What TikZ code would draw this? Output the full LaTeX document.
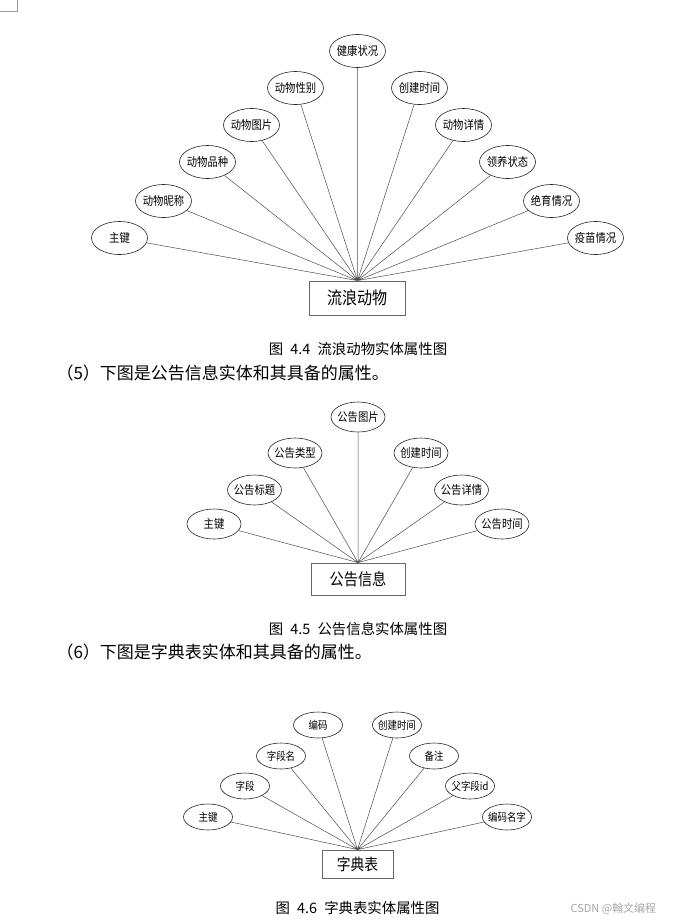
\documentclass[tikz,border=0pt]{standalone}
\usepackage{fontspec}
\setmainfont{Noto Sans CJK SC}
\newfontfamily\narrowcjk[FakeStretch=0.86]{Noto Sans CJK SC}
\usetikzlibrary{shapes.geometric}
\begin{document}
\begin{tikzpicture}[x=1pt,y=-1pt,
    attr/.style={ellipse,draw=black!85,line width=0.6pt,inner xsep=-2pt,inner ysep=0pt},
    bigattr/.style={attr,minimum width=56pt,minimum height=33pt,font=\narrowcjk\fontsize{12}{12}\selectfont},
    midattr/.style={attr,minimum width=54pt,minimum height=30pt,font=\narrowcjk\fontsize{12}{12}\selectfont},
    smallattr/.style={attr,minimum width=49pt,minimum height=26pt,font=\narrowcjk\fontsize{11}{11}\selectfont},
    entity/.style={rectangle,draw=black!60,line width=0.8pt,inner sep=0pt},
    link/.style={draw=black!70,line width=0.5pt},
    caption/.style={font=\fontsize{14.4}{15}\selectfont},
    para/.style={anchor=west,font=\fontsize{17}{18}\selectfont}]
  \useasboundingbox (0,0) rectangle (674,922);
  \draw[black!40,line width=0.6pt] (0,11.7) -- (17.3,11.7) -- (17.3,0);

  % 流浪动物
  \node[entity,minimum width=96pt,minimum height=34pt,font=\narrowcjk\fontsize{17.5}{18}\selectfont] (p) at (357.5,298) {流浪动物};
  \node[bigattr] (p1) at (119.5,238) {主键};
  \node[bigattr] (p2) at (163.5,201) {动物昵称};
  \node[bigattr] (p3) at (207.5,162) {动物品种};
  \node[bigattr] (p4) at (251.5,125) {动物图片};
  \node[bigattr] (p5) at (295.5,88) {动物性别};
  \node[bigattr] (p6) at (357.5,51) {健康状况};
  \node[bigattr] (p7) at (419.5,88) {创建时间};
  \node[bigattr] (p8) at (463.5,125) {动物详情};
  \node[bigattr] (p9) at (507.5,162) {领养状态};
  \node[bigattr] (p10) at (551.5,201) {绝育情况};
  \node[bigattr] (p11) at (595.5,238) {疫苗情况};
  \draw[link] (p.north) -- (p1) (p.north) -- (p2) (p.north) -- (p3)
    (p.north) -- (p4) (p.north) -- (p5) (p.north) -- (p6) (p.north) -- (p7)
    (p.north) -- (p8) (p.north) -- (p9) (p.north) -- (p10) (p.north) -- (p11);
  \node[caption] (cap1) at (358,349) {图\hspace{0.5em}4.4\hspace{0.5em}流浪动物实体属性图};
  \node[para] (txt1) at (53,373) {（5）下图是公告信息实体和其具备的属性。};

  % 公告信息
  \node[entity,minimum width=94pt,minimum height=32pt,font=\narrowcjk\fontsize{16.5}{17}\selectfont] (n) at (358,579) {公告信息};
  \node[midattr] (n1) at (214,524) {主键};
  \node[midattr] (n2) at (254.5,490) {公告标题};
  \node[midattr] (n3) at (295,453) {公告类型};
  \node[midattr] (n4) at (358,417) {公告图片};
  \node[midattr] (n5) at (421,453) {创建时间};
  \node[midattr] (n6) at (461.5,490) {公告详情};
  \node[midattr] (n7) at (502,524) {公告时间};
  \draw[link] (n.north) -- (n1) (n.north) -- (n2) (n.north) -- (n3)
    (n.north) -- (n4) (n.north) -- (n5) (n.north) -- (n6) (n.north) -- (n7);
  \node[caption] (cap2) at (358,629) {图\hspace{0.5em}4.5\hspace{0.5em}公告信息实体属性图};
  \node[para] (txt2) at (53,652) {（6）下图是字典表实体和其具备的属性。};

  % 字典表
  \node[entity,minimum width=71pt,minimum height=28pt,font=\narrowcjk\fontsize{16}{16}\selectfont] (d) at (357.5,864) {字典表};
  \node[smallattr] (d1) at (208,817) {主键};
  \node[smallattr] (d2) at (245,786) {字段};
  \node[smallattr] (d3) at (281,756) {字段名};
  \node[smallattr] (d4) at (318,725) {编码};
  \node[smallattr] (d5) at (397,725) {创建时间};
  \node[smallattr] (d6) at (434,756) {备注};
  \node[smallattr] (d7) at (470,786) {父字段id};
  \node[smallattr] (d8) at (507,817) {编码名字};
  \draw[link] (d.north) -- (d1) (d.north) -- (d2) (d.north) -- (d3)
    (d.north) -- (d4) (d.north) -- (d5) (d.north) -- (d6) (d.north) -- (d7)
    (d.north) -- (d8);
  \node[caption] (cap3) at (357.5,908) {图\hspace{0.5em}4.6\hspace{0.5em}字典表实体属性图};
  \node[anchor=west,black!35,font=\fontsize{11}{12}\selectfont] (mark) at (567,909) {CSDN @翰文编程};
\end{tikzpicture}
\end{document}
